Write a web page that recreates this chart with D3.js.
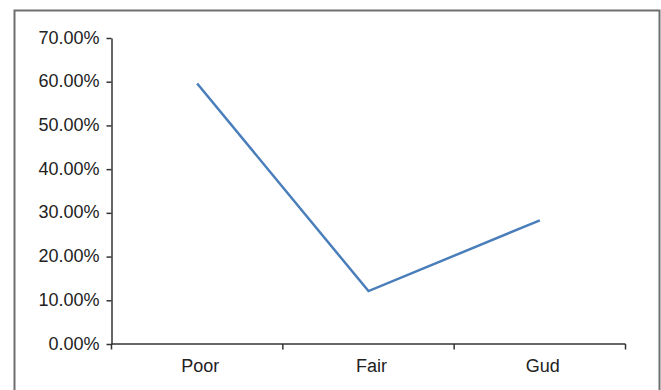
<!DOCTYPE html>
<html>
<head>
<meta charset="utf-8">
<script src="https://cdn.jsdelivr.net/npm/d3@7"></script>
<style>
  html, body { margin: 0; padding: 0; background: #fff; }
  svg { display: block; }
  text { font-family: "Liberation Sans", Arial, sans-serif; fill: #222; }
</style>
</head>
<body>
<svg id="chart" width="661" height="390"></svg>
<script>
// Share of responses per rating
const categories = ["Poor", "Fair", "Gud"];
const shares = [0.596, 0.121, 0.283];
const yTicks = [0, 0.1, 0.2, 0.3, 0.4, 0.5, 0.6, 0.7];

const svg = d3.select("#chart");

// Outer frame
svg.append("rect")
  .attr("x", 14.5).attr("y", 10.5)
  .attr("width", 645).attr("height", 400)
  .attr("fill", "none")
  .attr("stroke", "#6e6e6e")
  .attr("stroke-width", 2);

const plot = { left: 111.5, right: 625.5, top: 38, bottom: 344 };

const x = d3.scaleBand()
  .domain(categories)
  .range([plot.left, plot.right]);

const y = d3.scaleLinear()
  .domain([0, 0.7])
  .range([plot.bottom, plot.top]);

// Y axis
const yAxis = svg.append("g")
  .attr("transform", `translate(${plot.left},0)`)
  .call(d3.axisLeft(y)
    .tickValues(yTicks)
    .tickFormat(d3.format(".2%"))
    .tickSize(5)
    .tickPadding(7)
    .tickSizeOuter(0));
yAxis.select(".domain").attr("stroke", "#333").attr("stroke-width", 1.5);
yAxis.selectAll(".tick line").attr("stroke", "#333").attr("stroke-width", 1.5);
yAxis.selectAll(".tick text")
  .style("font-size", "18px")
  .attr("dy", "0.28em")
  .attr("fill", "#222");

// X axis: ticks sit on band boundaries
const xAxisG = svg.append("g")
  .attr("transform", `translate(0,${plot.bottom})`);
xAxisG.append("line")
  .attr("x1", plot.left).attr("x2", plot.right)
  .attr("stroke", "#333").attr("stroke-width", 1.5);
const boundaries = categories.map(c => x(c)).concat([x(categories[categories.length - 1]) + x.bandwidth()]);
xAxisG.selectAll("line.tick")
  .data(boundaries)
  .join("line")
  .attr("class", "tick")
  .attr("x1", d => d).attr("x2", d => d)
  .attr("y1", 0).attr("y2", 5.5)
  .attr("stroke", "#333").attr("stroke-width", 1.5);
xAxisG.selectAll("text")
  .data(categories)
  .join("text")
  .attr("x", d => x(d) + x.bandwidth() / 2 + 3)
  .attr("y", 28)
  .attr("text-anchor", "middle")
  .style("font-size", "18px")
  .text(d => d);

// Series line
const line = d3.line()
  .x((d, i) => x(categories[i]) + x.bandwidth() / 2)
  .y(d => y(d));

svg.append("path")
  .datum(shares)
  .attr("d", line)
  .attr("fill", "none")
  .attr("stroke", "#4a7ebb")
  .attr("stroke-width", 2.5);
</script>
</body>
</html>
